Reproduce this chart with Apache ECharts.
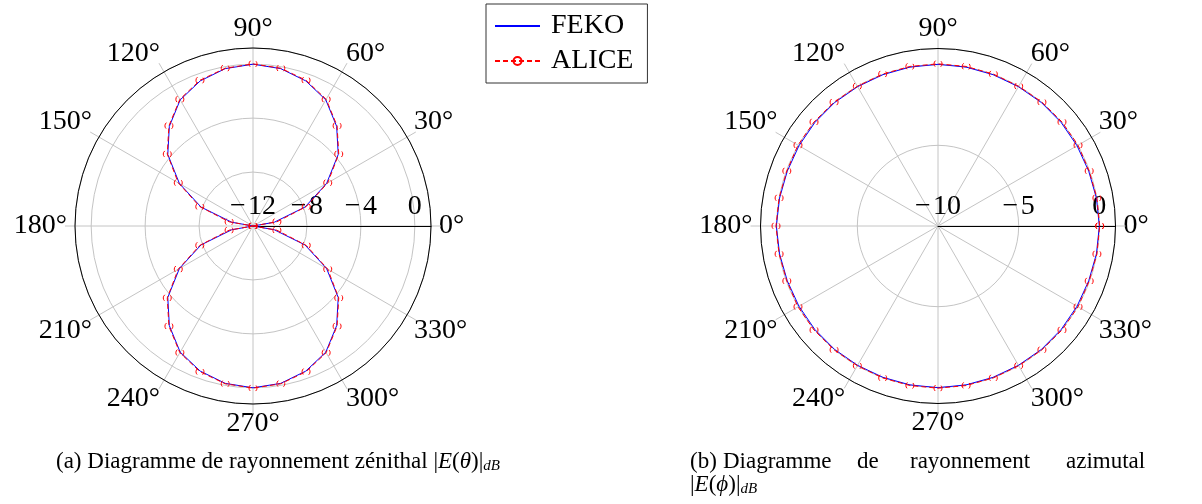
<!DOCTYPE html>
<html>
<head>
<meta charset="utf-8">
<script src="https://cdn.jsdelivr.net/npm/echarts@6/dist/echarts.min.js"></script>
<style>
html,body{margin:0;padding:0;background:#fff;}
#chart{width:1202px;height:504px;}
</style>
</head>
<body>
<div id="chart"></div>
<script>
// ---- data ----
const angles = [0,10,20,30,40,50,60,70,80,90,100,110,120,130,140,150,160,170,180,
                190,200,210,220,230,240,250,260,270,280,290,300,310,320,330,340,350,360];
const angleLabels = ['0°','30°','60°','90°','120°','150°','180°','210°','240°','270°','300°','330°'];

// (a) zenithal pattern |E(theta)| in dB
const fekoZenith = [-12,-10.4,-7.9,-5.7,-3.75,-2.35,-1.2,-0.55,-0.15,0,-0.15,-0.55,-1.2,-2.35,-3.75,-5.7,-7.9,-10.4,-12,
                    -10.4,-7.9,-5.7,-3.75,-2.35,-1.2,-0.55,-0.15,0,-0.15,-0.55,-1.2,-2.35,-3.75,-5.7,-7.9,-10.4,-12];
const aliceZenith = [-12,-10.2,-7.8,-5.6,-3.7,-2.3,-1.15,-0.5,-0.12,0.02,-0.12,-0.5,-1.15,-2.3,-3.7,-5.6,-7.8,-10.2,-12,
                     -10.2,-7.8,-5.6,-3.7,-2.3,-1.15,-0.5,-0.12,0.02,-0.12,-0.5,-1.15,-2.3,-3.7,-5.6,-7.8,-10.2,-12];
const zenithRadialTicks = [-12,-8,-4,0];

// (b) azimuthal pattern |E(phi)| in dB
const fekoAzimuth = [0,-0.03,-0.06,-0.05,-0.03,-0.02,-0.03,-0.02,0,0.02,0,-0.02,-0.03,-0.02,-0.03,-0.05,-0.06,-0.03,0.02,
                     -0.03,-0.06,-0.05,-0.03,-0.02,-0.03,-0.02,0,0.02,0,-0.02,-0.03,-0.02,-0.03,-0.05,-0.06,-0.03,0];
const aliceAzimuth = [0.02,0,-0.03,0.02,0.03,0.02,0,0.02,0.04,0.05,0.04,0.02,0,0.02,0.03,0.02,-0.03,0,0.04,
                      0,-0.03,0.02,0.03,0.02,0,0.02,0.04,0.05,0.04,0.02,0,0.02,0.03,0.02,-0.03,0,0.02];
const azimuthRadialTicks = [-10,-5,0];

const seriesNames = ['FEKO','ALICE'];

// ---- chart ----
const FONT = '"Liberation Serif", "Times New Roman", serif';
const GRID = '#c4c4c4';
const fmtNum = v => (v < 0 ? '\u2212\u200A' + Math.abs(v) : String(v));

function axesFor(idx, center, r, rmin, rmax, rint, ticks) {
  return {
    polar: [{center: center, radius: r}, {center: center, radius: r}],
    angle: [{
      polarIndex: idx*2, type: 'value', min: 0, max: 360, interval: 30,
      startAngle: 0, clockwise: false, z: 1,
      axisLine: {show: false},
      axisTick: {show: true, length: 10, lineStyle: {color: GRID, width: 1}},
      axisLabel: {show: true, margin: 8, fontFamily: FONT, fontSize: 28, lineHeight: 23, color: '#000',
        formatter: v => (v % 30 === 0 && v < 360) ? angleLabels[v/30] : ''},
      splitLine: {show: true, lineStyle: {color: GRID, width: 1}}
    }, {
      polarIndex: idx*2+1, type: 'value', min: 0, max: 360, interval: 90,
      startAngle: 0, clockwise: false, z: 5,
      axisLine: {show: true, lineStyle: {color: '#000', width: 1}},
      axisTick: {show: false}, axisLabel: {show: false}, splitLine: {show: false}
    }],
    radius: [{
      polarIndex: idx*2, type: 'value', min: rmin, max: rmax, interval: rint, z: 2,
      axisLine: {show: true, lineStyle: {color: '#000', width: 1}},
      axisTick: {show: false},
      axisLabel: {show: true, margin: 5, fontFamily: FONT, fontSize: 28, color: '#000',
        formatter: v => ticks.indexOf(v) >= 0 ? fmtNum(v) : ''},
      splitLine: {show: true, lineStyle: {color: GRID, width: 1}}
    }, {
      polarIndex: idx*2+1, type: 'value', min: rmin, max: rmax, show: false,
      axisLine: {show: false}, axisLabel: {show: false}, splitLine: {show: false}, axisTick: {show: false}
    }]
  };
}

const A = axesFor(0, [253, 226], 178, -12, 1.2, 4, zenithRadialTicks);
const B = axesFor(1, [938, 226], 177.5, -10, 1, 5, azimuthRadialTicks);

function mkSeries(name, polarIndex, vals, isAlice) {
  const s = {
    name: name, type: 'line', coordinateSystem: 'polar', polarIndex: polarIndex,
    data: angles.map((a, i) => [vals[i], a]),
    animation: false, z: isAlice ? 4 : 3
  };
  if (isAlice) {
    s.symbol = 'circle'; s.symbolSize = 8; s.showSymbol = true;
    s.lineStyle = {color: '#ff0000', width: 1, type: [5, 3]};
    s.itemStyle = {color: 'rgba(0,0,0,0)', borderColor: '#ff0000', borderWidth: 1,
                   borderType: [6.5, 6], borderDashOffset: 3.25};
  } else {
    s.symbol = 'none'; s.showSymbol = false;
    s.lineStyle = {color: '#0000ff', width: 1};
    s.itemStyle = {color: '#0000ff'};
  }
  return s;
}

const capRich = {
  i: {fontStyle: 'italic', fontFamily: FONT, fontSize: 23},
  s: {fontStyle: 'italic', fontFamily: FONT, fontSize: 15, verticalAlign: 'bottom', padding: [9,0,0,0]}
};

const chart = echarts.init(document.getElementById('chart'), null, {renderer: 'canvas'});
chart.setOption({
  animation: false,
  backgroundColor: '#fff',
  polar: A.polar.concat(B.polar),
  angleAxis: A.angle.concat(B.angle),
  radiusAxis: A.radius.concat(B.radius),
  legend: {
    data: [
      {name: seriesNames[0], itemStyle: {opacity: 0, borderWidth: 0}},
      {name: seriesNames[1]}
    ],
    orient: 'vertical', left: 486, top: 4,
    padding: [7, 14, 7, 8], itemGap: 5, itemWidth: 45, itemHeight: 10,
    backgroundColor: '#fff', borderColor: '#333', borderWidth: 1, borderRadius: 0,
    textStyle: {fontFamily: FONT, fontSize: 28, color: '#000', lineHeight: 30, padding: [0, 0, 0, 6]}
  },
  series: [
    mkSeries(seriesNames[0], 0, fekoZenith, false),
    mkSeries(seriesNames[1], 0, aliceZenith, true),
    mkSeries(seriesNames[0], 2, fekoAzimuth, false),
    mkSeries(seriesNames[1], 2, aliceAzimuth, true)
  ],
  graphic: [
    {type: 'text', left: 56, top: 450, style: {
      text: '(a) Diagramme de rayonnement zénithal |{i|E}({i|\u03B8})|{s|dB}',
      font: '23px ' + FONT, fill: '#000', rich: capRich
    }},
    {type: 'text', left: 690, top: 450, style: {text: '(b)', font: '23px ' + FONT, fill: '#000'}},
    {type: 'text', left: 723, top: 450, style: {text: 'Diagramme', font: '23px ' + FONT, fill: '#000'}},
    {type: 'text', left: 857, top: 450, style: {text: 'de', font: '23px ' + FONT, fill: '#000'}},
    {type: 'text', left: 910, top: 450, style: {text: 'rayonnement', font: '23px ' + FONT, fill: '#000'}},
    {type: 'text', left: 1066, top: 450, style: {text: 'azimutal', font: '23px ' + FONT, fill: '#000'}},
    {type: 'text', left: 690, top: 473, style: {
      text: '|{i|E}({i|\u03D5})|{s|dB}', font: '23px ' + FONT, fill: '#000', rich: capRich
    }}
  ]
});
</script>
</body>
</html>
